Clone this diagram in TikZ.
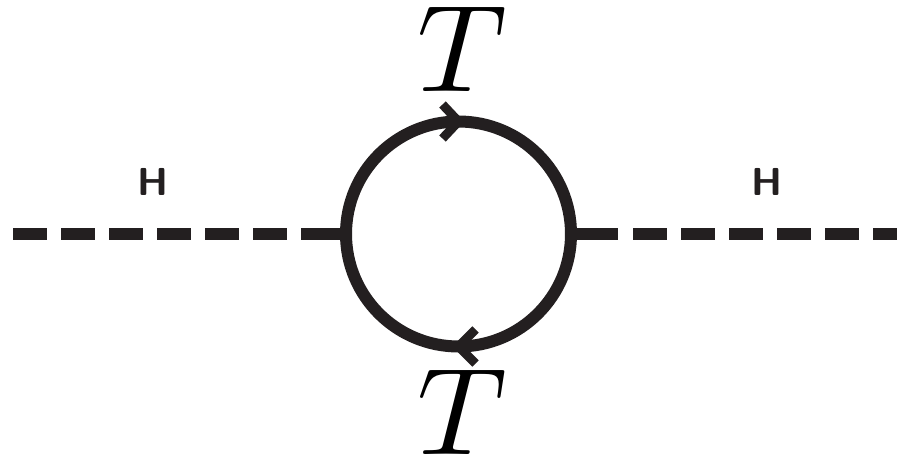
\documentclass[tikz,border=0pt]{standalone}
\usepackage{tikz}
\usetikzlibrary{arrows.meta,positioning,calc}
\usepackage{xcolor}
\definecolor{ink}{HTML}{231F20}
\tikzset{
  loopnode/.style={circle,draw=ink,line width=12pt,minimum size=225pt,
    inner sep=0pt,outer sep=0pt},
  hedge/.style={draw=ink,line width=12pt,dash pattern=on 34pt off 14pt},
  hstub/.style={draw=ink,line width=12pt},
  chevron/.style={draw=ink,line width=9pt,line join=miter},
  hlabel/.style={anchor=base,font=\sffamily\bfseries,scale=3.9,text=ink,inner sep=0pt},
  tlabel/.style={anchor=base,scale=12.4,inner sep=0pt},
}
\begin{document}
\begin{tikzpicture}[x=1pt,y=-1pt]
  \useasboundingbox (0,0) rectangle (897,457);
  \node[loopnode] (loop) at (458.5,234){};
  \coordinate (hin) at (13,234); \coordinate (hinstub) at (301,234);
  \coordinate (hout) at (897,234); \coordinate (houtstub) at (633,234);
  % external Higgs legs
  \draw[hedge] (hin)--(loop.west); \draw[hstub] (hinstub)--(loop.west);
  \draw[hedge] (houtstub)--(hout);
  \draw[hstub] (loop.east)--([xshift=-15pt]houtstub);
  % fermion flow on the loop
  \draw[chevron] ([shift={(-16,-17)}]loop.north)--(loop.north)--([shift={(-16,17)}]loop.north);
  \draw[chevron] ([shift={(17,-17)}]loop.south)--(loop.south)--([shift={(17,17)}]loop.south);
  \node[hlabel] (hleft) at (153,196){H}; \node[hlabel] (hright) at (767,196){H};
  \node[tlabel] (ttop) at (462,92){$T$}; \node[tlabel] (tbot) at (462,454){$T$};
\end{tikzpicture}
\end{document}
